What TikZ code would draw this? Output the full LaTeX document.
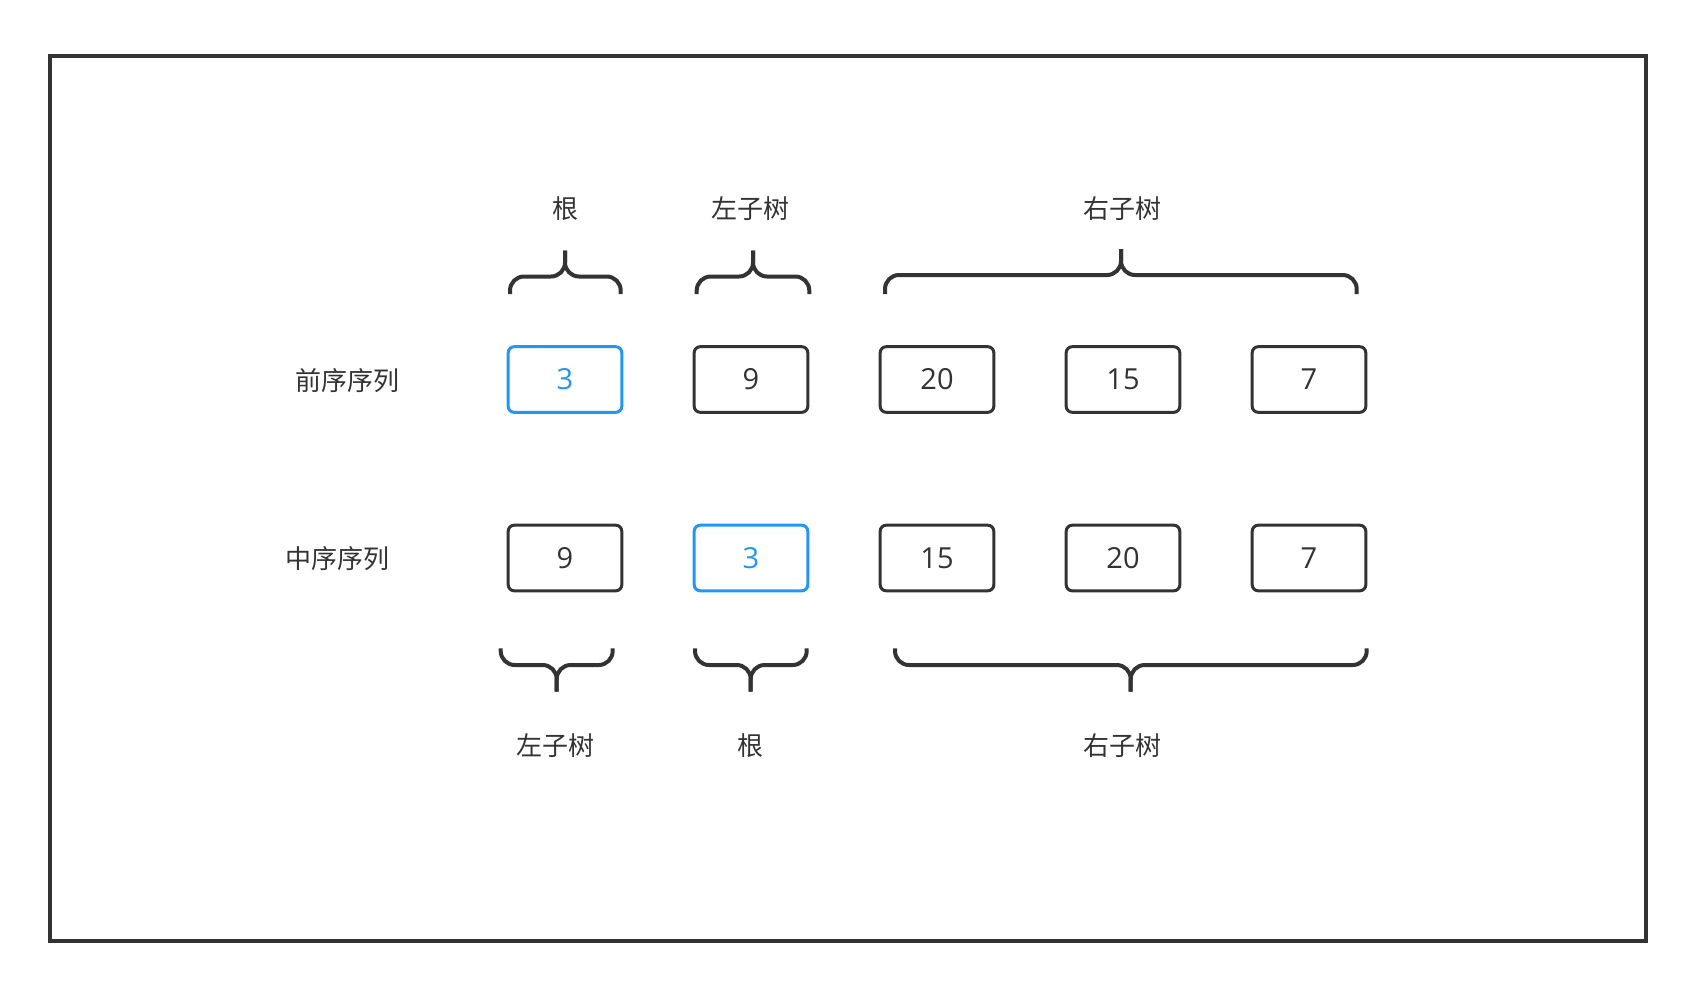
\documentclass[tikz,border=0pt]{standalone}
\usepackage{fontspec}
\setmainfont{Open Sans}
\newfontfamily\cjk{Noto Sans CJK SC}
\definecolor{ink}{HTML}{333333}
\definecolor{hl}{HTML}{2196F3}
\tikzset{
  cell/.style={draw=ink, line width=1.5pt, rounded corners=3pt, minimum width=56.8pt, minimum height=32.8pt, inner sep=0pt, text=ink, font=\fontsize{14.5}{16}\selectfont},
  hot/.style={cell, draw=hl, text=hl},
  lab/.style={text=ink, font=\cjk\fontsize{13}{15}\selectfont, inner sep=0pt},
  bracestyle/.style={draw=ink, line width=2pt, line cap=butt, line join=round, rounded corners=7pt},
  frame/.style={draw=ink, line width=2pt}
}
% L R C T H P
\newcommand\mybrace[6]{%
  \draw[bracestyle] (#1,#4) -- (#1,#5) -- (#3,#5) -- (#3,#6);
  \draw[bracestyle] (#2,#4) -- (#2,#5) -- (#3,#5) -- (#3,#6);
}
\begin{document}
\begin{tikzpicture}[x=0.5pt,y=-0.5pt]
\useasboundingbox (0,0) rectangle (1696,992);
\draw[frame] (50.3,56) rectangle (1645.7,941.3);

% row labels
\node[lab] (pre) at (347.5,381) {前序序列};
\node[lab] (mid) at (337.7,559) {中序序列};

% preorder row
\node[hot]  (p1) at (565,379.5) {3};
\node[cell] (p2) at (751,379.5) {9};
\node[cell] (p3) at (937,379.5) {20};
\node[cell] (p4) at (1123,379.5) {15};
\node[cell] (p5) at (1309,379.5) {7};

% inorder row
\node[cell] (m1) at (565,558) {9};
\node[hot]  (m2) at (751,558) {3};
\node[cell] (m3) at (937,558) {15};
\node[cell] (m4) at (1123,558) {20};
\node[cell] (m5) at (1309,558) {7};

% top braces
\mybrace{510}{620.7}{565}{294}{276.5}{250.5}
\mybrace{696.7}{809.3}{753}{294}{276.5}{250.5}
\mybrace{885}{1356.7}{1121}{294}{275}{249}

% top labels
\node[lab] (t1) at (565,209) {根};
\node[lab] (t2) at (750,209) {左子树};
\node[lab] (t3) at (1122.7,209) {右子树};

% bottom braces
\mybrace{500.7}{612.7}{556.7}{648.3}{665}{691.7}
\mybrace{695}{806.7}{750.7}{648.3}{665}{691.7}
\mybrace{895}{1366.7}{1130.7}{648.3}{665}{691.7}

% bottom labels
\node[lab] (b1) at (555,746) {左子树};
\node[lab] (b2) at (750.7,746) {根};
\node[lab] (b3) at (1122.7,746) {右子树};
\end{tikzpicture}
\end{document}
